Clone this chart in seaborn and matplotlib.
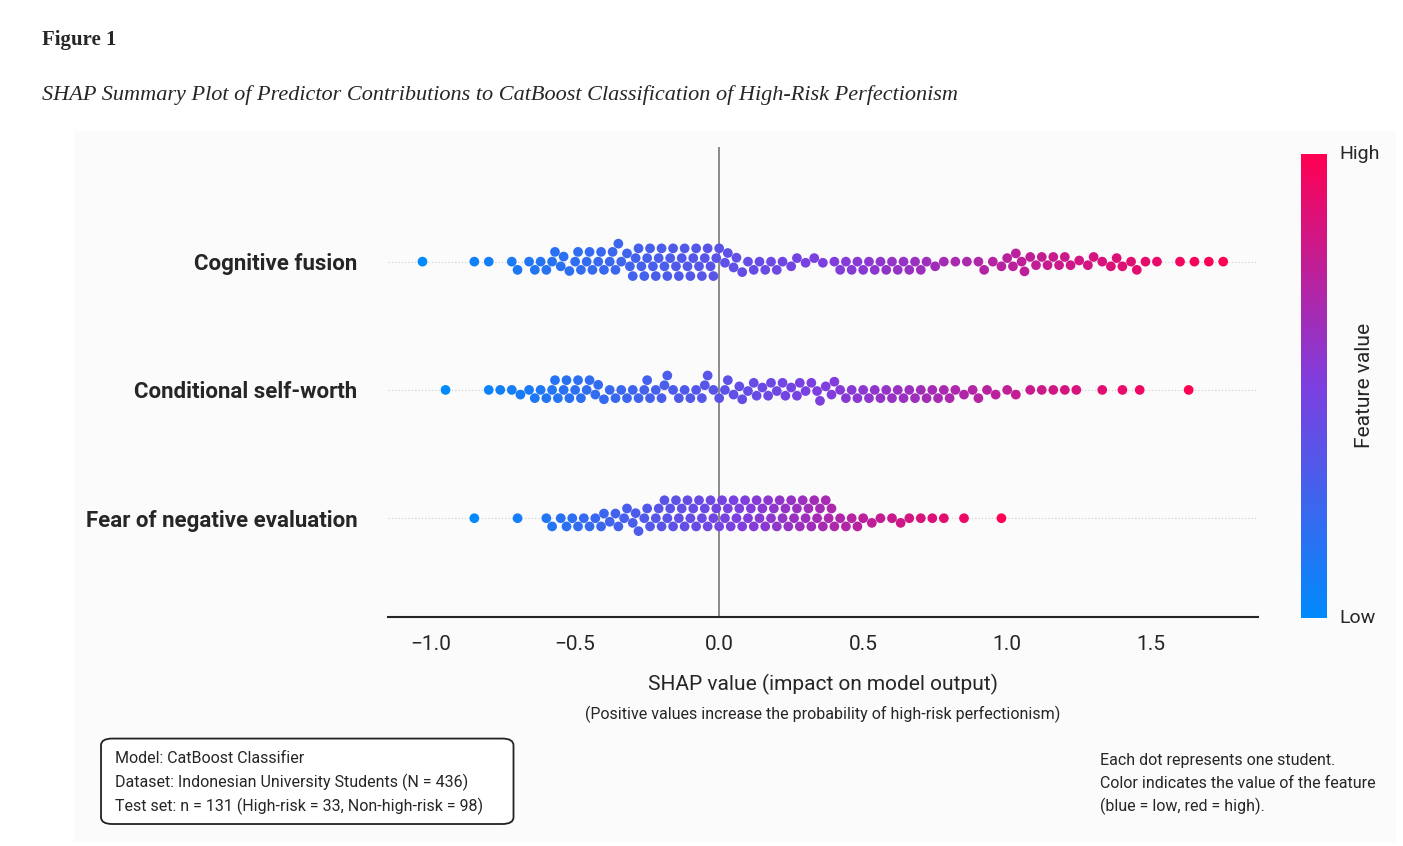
import numpy as np
import pandas as pd
import matplotlib
matplotlib.use("Agg")
import matplotlib.pyplot as plt
from matplotlib.colors import LinearSegmentedColormap
from matplotlib.patches import FancyBboxPatch, Rectangle
import seaborn as sns

features = ["Cognitive fusion", "Conditional self-worth", "Fear of negative evaluation"]

shap_cognitive = [
    -1.03, -0.85, -0.80, -0.72, -0.70, -0.66, -0.64, -0.62, -0.60, -0.58, -0.57, -0.55, -0.54, -0.52,
    -0.50, -0.49, -0.48, -0.46, -0.45, -0.44, -0.42, -0.41, -0.40, -0.38, -0.37, -0.36, -0.35, -0.34,
    -0.32, -0.31, -0.30, -0.29, -0.28, -0.27, -0.26, -0.25, -0.24, -0.23, -0.22, -0.21, -0.20, -0.19,
    -0.18, -0.17, -0.16, -0.15, -0.14, -0.13, -0.12, -0.11, -0.10, -0.09, -0.08, -0.07, -0.06, -0.05,
    -0.04, -0.03, -0.02, -0.01, 0.00, 0.02, 0.03, 0.05, 0.06, 0.08, 0.10, 0.12, 0.14, 0.16, 0.18,
    0.20, 0.22, 0.25, 0.27, 0.30, 0.33, 0.36, 0.40, 0.42, 0.44, 0.46, 0.48, 0.50, 0.52, 0.54, 0.56,
    0.58, 0.60, 0.62, 0.64, 0.66, 0.68, 0.70, 0.72, 0.75, 0.78, 0.82, 0.86, 0.90, 0.92, 0.95, 0.98,
    1.00, 1.02, 1.03, 1.05, 1.06, 1.08, 1.10, 1.12, 1.14, 1.16, 1.18, 1.20, 1.22, 1.25, 1.28, 1.30,
    1.33, 1.36, 1.38, 1.40, 1.43, 1.45, 1.48, 1.52, 1.60, 1.65, 1.70, 1.75,
]
shap_selfworth = [
    -0.95, -0.80, -0.76, -0.72, -0.69, -0.66, -0.64, -0.62, -0.60, -0.58, -0.57, -0.56, -0.54, -0.53,
    -0.52, -0.50, -0.49, -0.48, -0.46, -0.45, -0.43, -0.42, -0.40, -0.38, -0.36, -0.34, -0.32, -0.30,
    -0.28, -0.26, -0.25, -0.24, -0.22, -0.20, -0.19, -0.18, -0.16, -0.14, -0.12, -0.10, -0.08, -0.06,
    -0.05, -0.04, -0.02, 0.00, 0.02, 0.03, 0.05, 0.07, 0.08, 0.10, 0.12, 0.13, 0.15, 0.17, 0.18, 0.20,
    0.22, 0.23, 0.25, 0.27, 0.28, 0.30, 0.32, 0.34, 0.35, 0.37, 0.39, 0.40, 0.42, 0.44, 0.46, 0.48,
    0.50, 0.52, 0.54, 0.56, 0.58, 0.60, 0.62, 0.64, 0.66, 0.68, 0.70, 0.72, 0.74, 0.76, 0.78, 0.80,
    0.82, 0.85, 0.88, 0.90, 0.93, 0.96, 1.00, 1.03, 1.08, 1.12, 1.16, 1.20, 1.24, 1.33, 1.40, 1.46,
    1.63,
]
shap_fear = [
    -0.85, -0.70, -0.60, -0.58, -0.55, -0.53, -0.51, -0.49, -0.47, -0.45, -0.43, -0.41, -0.40, -0.38,
    -0.36, -0.35, -0.33, -0.32, -0.30, -0.29, -0.28, -0.26, -0.25, -0.24, -0.22, -0.21, -0.20, -0.19,
    -0.18, -0.17, -0.16, -0.15, -0.14, -0.13, -0.12, -0.11, -0.10, -0.09, -0.08, -0.07, -0.06, -0.05,
    -0.04, -0.03, -0.02, -0.01, 0.00, 0.01, 0.02, 0.03, 0.04, 0.05, 0.06, 0.07, 0.08, 0.09, 0.10,
    0.11, 0.12, 0.13, 0.14, 0.15, 0.16, 0.17, 0.18, 0.19, 0.20, 0.21, 0.22, 0.23, 0.24, 0.25, 0.26,
    0.27, 0.28, 0.29, 0.30, 0.31, 0.32, 0.33, 0.34, 0.35, 0.36, 0.37, 0.38, 0.39, 0.40, 0.42, 0.44,
    0.46, 0.48, 0.50, 0.53, 0.56, 0.60, 0.63, 0.66, 0.70, 0.74, 0.78, 0.85, 0.98,
]

xticks = [-1.0, -0.5, 0.0, 0.5, 1.0, 1.5]

rows = []
for name, vals in zip(features, [shap_cognitive, shap_selfworth, shap_fear]):
    v = np.array(vals)
    # feature value ordering follows the SHAP value (blue = low, red = high)
    fv = (v - v.min()) / (v.max() - v.min())
    for s, f in zip(v, fv):
        rows.append({"feature": name, "shap": s, "fval": f})
df = pd.DataFrame(rows)

cmap = LinearSegmentedColormap.from_list("shap", ["#008afb", "#7c3fe0", "#ff0052"])

sns.set_style("white")
plt.rcParams["font.family"] = ["Roboto", "DejaVu Sans"]

fig = plt.figure(figsize=(14.03, 8.46), dpi=100)
fig.patches.append(Rectangle((0.053, 0.005), 0.942, 0.84, transform=fig.transFigure,
                             facecolor="#fbfbfb", edgecolor="none", zorder=-5))
ax = fig.add_axes([0.2765, 0.2707, 0.62, 0.555])
ax.set_facecolor("none")

for i in range(len(features)):
    ax.axhline(i, color="#cccccc", ls=(0, (1, 2)), lw=0.8, zorder=0)
ax.axvline(0, color="#777777", lw=1.2, zorder=1)

sns.swarmplot(data=df, x="shap", y="feature", order=features, ax=ax, size=7,
              color="k", linewidth=0, zorder=3)

# recolor swarm points by feature value, matched on row and shap value
for coll in ax.collections:
    offs = coll.get_offsets()
    if len(offs) == 0:
        continue
    cols = []
    for x, y in offs:
        name = features[int(round(y))]
        sub = df[df.feature == name]
        j = (sub.shap - x).abs().idxmin()
        cols.append(cmap(sub.fval[j]))
    coll.set_facecolors(cols)

ax.set_xlim(-1.15, 1.87)
ax.set_ylim(2.77, -0.89)
ax.set_xticks(xticks)
ax.set_xticklabels([f"{t:.1f}".replace("-", "\u2212") for t in xticks], fontsize=15)
ax.tick_params(axis="x", length=5, width=1, pad=8)
ax.tick_params(axis="y", length=0, pad=22)
ax.set_yticks(range(len(features)))
ax.set_yticklabels(features, fontsize=16, fontweight="bold")
ax.set_ylabel("")
ax.set_xlabel("SHAP value (impact on model output)", fontsize=15, labelpad=14)
for s in ["top", "right", "left"]:
    ax.spines[s].set_visible(False)
ax.spines["bottom"].set_linewidth(1.5)
ax.text(0.5, -0.19, "(Positive values increase the probability of high-risk perfectionism)",
        transform=ax.transAxes, ha="center", va="top", fontsize=11.5)

cax = fig.add_axes([0.9275, 0.27, 0.018, 0.548])
sm = plt.cm.ScalarMappable(cmap=cmap, norm=plt.Normalize(0, 1))
cb = fig.colorbar(sm, cax=cax)
cb.outline.set_visible(False)
cb.set_ticks([])
cax.text(1.5, 1.0, "High", transform=cax.transAxes, fontsize=14, va="center")
cax.text(1.5, 0.0, "Low", transform=cax.transAxes, fontsize=14, va="center")
cax.text(2.5, 0.5, "Feature value", transform=cax.transAxes, fontsize=15, rotation=90,
         va="center", ha="center")

fig.text(0.030, 0.953, "Figure 1", fontsize=15, fontweight="bold", family="Liberation Serif", va="center")
fig.text(0.030, 0.888, "SHAP Summary Plot of Predictor Contributions to CatBoost Classification of High-Risk Perfectionism",
         fontsize=16, style="italic", family="Liberation Serif", va="center")

box = FancyBboxPatch((0.072, 0.026), 0.294, 0.101, transform=fig.transFigure,
                     boxstyle="round,pad=0,rounding_size=0.008", facecolor="white",
                     edgecolor="#222222", lw=1.3)
fig.patches.append(box)
fig.text(0.082, 0.103, "Model: CatBoost Classifier", fontsize=11.5, va="center")
fig.text(0.082, 0.075, "Dataset: Indonesian University Students (N = 436)", fontsize=11.5, va="center")
fig.text(0.082, 0.047, "Test set: n = 131 (High-risk = 33, Non-high-risk = 98)", fontsize=11.5, va="center")
fig.text(0.784, 0.101, "Each dot represents one student.", fontsize=11.5, va="center")
fig.text(0.784, 0.074, "Color indicates the value of the feature", fontsize=11.5, va="center")
fig.text(0.784, 0.047, "(blue = low, red = high).", fontsize=11.5, va="center")

fig.savefig("out.png", dpi=100, facecolor="white")
